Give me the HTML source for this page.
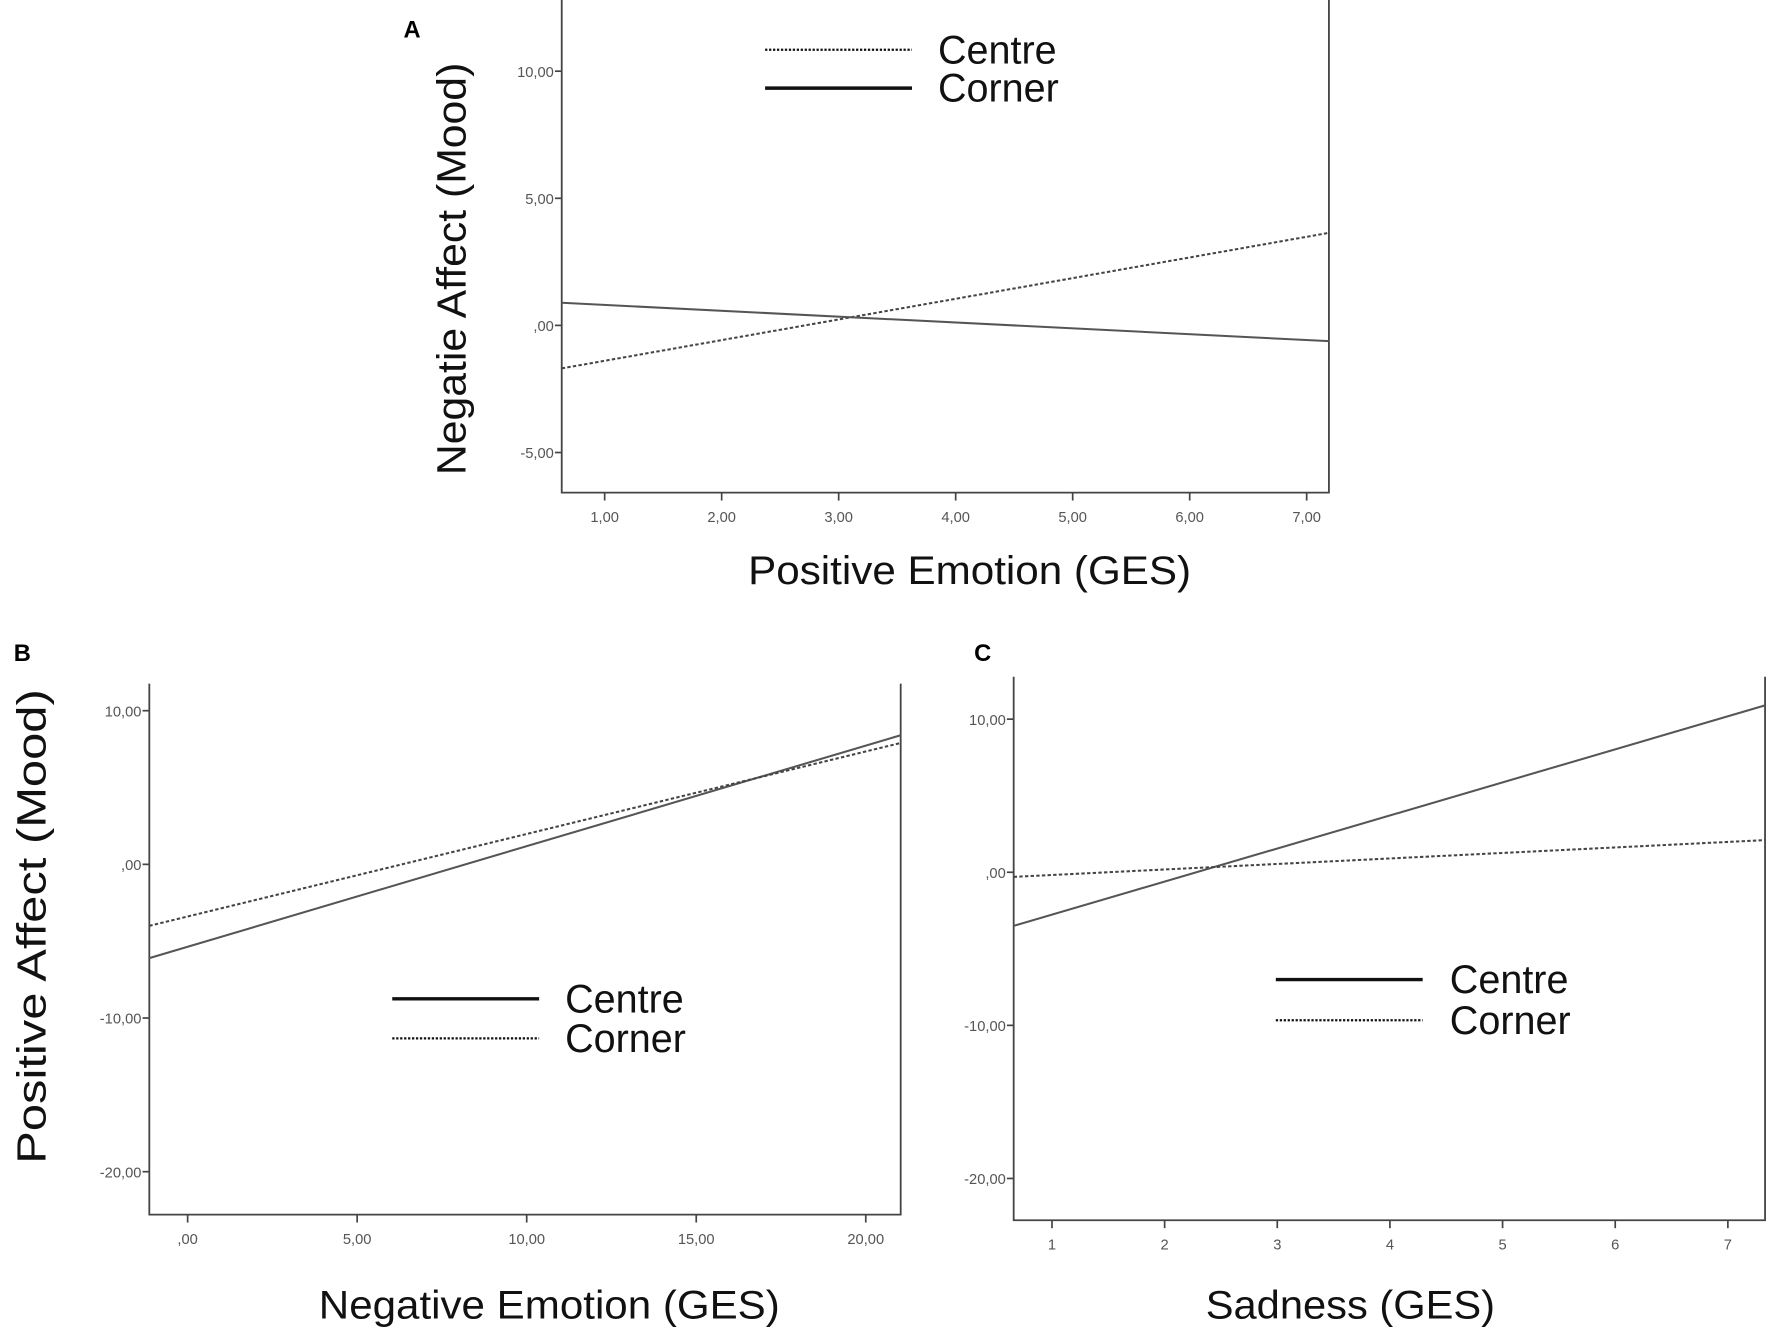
<!DOCTYPE html>
<html><head><meta charset="utf-8"><style>
html,body{margin:0;padding:0;background:#fff;}
svg{display:block;}
text{font-family:"Liberation Sans",sans-serif;}
</style></head><body>
<svg id="fig" width="1772" height="1331" viewBox="0 0 1568 1178" xmlns="http://www.w3.org/2000/svg"></svg>
<script>
// Panel A data
const aYTicks = [10, 5, 0, -5];
const aYTickLabels = ["10,00", "5,00", ",00", "-5,00"];
const aXTicks = [1, 2, 3, 4, 5, 6, 7];
const aXTickLabels = ["1,00", "2,00", "3,00", "4,00", "5,00", "6,00", "7,00"];
const aXRange = [0.633, 7.19];
const aCentre = [-1.69, 3.64];
const aCorner = [0.89, -0.62];
// Panel B data
const bYTicks = [10, 0, -10, -20];
const bYTickLabels = ["10,00", ",00", "-10,00", "-20,00"];
const bXTicks = [0, 5, 10, 15, 20];
const bXTickLabels = [",00", "5,00", "10,00", "15,00", "20,00"];
const bXRange = [-1.13, 21.03];
const bCentre = [-6.1, 8.4];
const bCorner = [-4.0, 7.9];
// Panel C data
const cYTicks = [10, 0, -10, -20];
const cYTickLabels = ["10,00", ",00", "-10,00", "-20,00"];
const cXTicks = [1, 2, 3, 4, 5, 6, 7];
const cXTickLabels = ["1", "2", "3", "4", "5", "6", "7"];
const cXRange = [0.66, 7.33];
const cCentre = [-3.5, 10.9];
const cCorner = [-0.3, 2.1];

const NS = "http://www.w3.org/2000/svg";
const svg = document.getElementById("fig");
function mk(tag, attrs, parent, txt) {
  const e = document.createElementNS(NS, tag);
  for (const k in attrs) e.setAttribute(k, attrs[k]);
  if (txt !== undefined) e.textContent = txt;
  (parent || svg).appendChild(e);
  return e;
}

function panel(cfg) {
  const g = mk("g", {});
  
  
  const x = v => cfg.left + (v - cfg.xr[0]) / (cfg.xr[1] - cfg.xr[0]) * (cfg.right - cfg.left);
  const y = v => cfg.y0 - v * cfg.ypu;
  // axes
  const ax = mk("path", {d: `M${cfg.left},${cfg.top} V${cfg.bottom} H${cfg.right} V${cfg.top}`, fill: "none", stroke: "#444", "stroke-width": 1.6}, g);
  
  
  cfg.yt.forEach((v, i) => {
    const yy = y(v);
    const t = mk("line", {x1: cfg.left - 6, x2: cfg.left, y1: yy, y2: yy, stroke: "#444", "stroke-width": 1.5}, g);
    
    
    const l = mk("text", {x: cfg.left - 7, y: yy + 5, "text-anchor": "end", "font-size": 13, fill: "#555"}, g, cfg.ytl[i]);
    
    
  });
  cfg.xt.forEach((v, i) => {
    const xx = x(v);
    const t = mk("line", {x1: xx, x2: xx, y1: cfg.bottom, y2: cfg.bottom + 7, stroke: "#444", "stroke-width": 1.5}, g);
    
    
    const l = mk("text", {x: xx, y: cfg.bottom + 26, "text-anchor": "middle", "font-size": 13, fill: "#555"}, g, cfg.xtl[i]);
    
    
  });
  // series
  const c = mk("line", {x1: x(cfg.xr[0]), y1: y(cfg.centre[0]), x2: x(cfg.xr[1]), y2: y(cfg.centre[1]), stroke: cfg.centreDash ? "#444" : "#555", "stroke-width": 1.8, "stroke-dasharray": cfg.centreDash ? "3,2" : "none"}, g);
  
  
  const k = mk("line", {x1: x(cfg.xr[0]), y1: y(cfg.corner[0]), x2: x(cfg.xr[1]), y2: y(cfg.corner[1]), stroke: cfg.centreDash ? "#555" : "#444", "stroke-width": 1.8, "stroke-dasharray": cfg.centreDash ? "none" : "3,2"}, g);
  
  
  // legend
  const lg = mk("g", {}, g);
  
  
  const L = cfg.leg;
  const l1 = mk("line", {x1: L.x, x2: L.x + 130, y1: L.y1, y2: L.y1, stroke: "#111", "stroke-width": cfg.centreDash ? 2 : 3, "stroke-dasharray": cfg.centreDash ? "2,1.5" : "none"}, lg);
  
  
  const t1 = mk("text", {x: L.tx, y: L.y1 + 12, "font-size": 35, fill: "#111"}, lg, "Centre");
  
  
  const l2 = mk("line", {x1: L.x, x2: L.x + 130, y1: L.y2, y2: L.y2, stroke: "#111", "stroke-width": cfg.centreDash ? 3 : 2, "stroke-dasharray": cfg.centreDash ? "none" : "2,1.5"}, lg);
  
  
  const t2 = mk("text", {x: L.tx, y: L.y2 + 12, "font-size": 35, fill: "#111"}, lg, "Corner");
  
  
  // titles
  const xt = mk("text", {x: cfg.xtitle[0], y: cfg.xtitle[1], "text-anchor": "middle", "font-size": 35, fill: "#111", textLength: cfg.xtitle[2], lengthAdjust: "spacingAndGlyphs"}, g, cfg.xtitle[3]);
  
  
  if (cfg.ytitle) {
    const yt = mk("text", {x: 0, y: 0, "text-anchor": "middle", "font-size": 36, fill: "#111", textLength: cfg.ytitle[2], lengthAdjust: "spacingAndGlyphs", transform: `translate(${cfg.ytitle[0]},${cfg.ytitle[1]}) rotate(-90)`}, g, cfg.ytitle[3]);
    
    
  }
  const pl = mk("text", {x: cfg.label[0], y: cfg.label[1], "font-size": 21, "font-weight": "bold", fill: "#000"}, g, cfg.label[2]);
  
  
}

panel({name: "panel-a", left: 497, right: 1176, top: 0, bottom: 436, y0: 288, ypu: 22.5,
  xr: aXRange, yt: aYTicks, ytl: aYTickLabels, xt: aXTicks, xtl: aXTickLabels,
  centre: aCentre, corner: aCorner, centreDash: true,
  leg: {x: 677, tx: 830, y1: 44, y2: 78},
  xtitle: [858, 517, 392, "Positive Emotion (GES)"],
  ytitle: [412, 238, 365, "Negatie Affect (Mood)"],
  label: [357, 33, "A"]});

panel({name: "panel-b", left: 132, right: 797, top: 605, bottom: 1075, y0: 765, ypu: 13.6,
  xr: bXRange, yt: bYTicks, ytl: bYTickLabels, xt: bXTicks, xtl: bXTickLabels,
  centre: bCentre, corner: bCorner, centreDash: false,
  leg: {x: 347, tx: 500, y1: 884, y2: 919},
  xtitle: [486, 1167, 408, "Negative Emotion (GES)"],
  ytitle: [40, 820, 420, "Positive Affect (Mood)"],
  label: [12, 585, "B"]});

panel({name: "panel-c", left: 897, right: 1562, top: 599, bottom: 1080, y0: 772, ypu: 13.55,
  xr: cXRange, yt: cYTicks, ytl: cYTickLabels, xt: cXTicks, xtl: cXTickLabels,
  centre: cCentre, corner: cCorner, centreDash: false,
  leg: {x: 1129, tx: 1283, y1: 867, y2: 903},
  xtitle: [1195, 1167, 256, "Sadness (GES)"],
  ytitle: null,
  label: [862, 585, "C"]});
</script>
</body></html>
